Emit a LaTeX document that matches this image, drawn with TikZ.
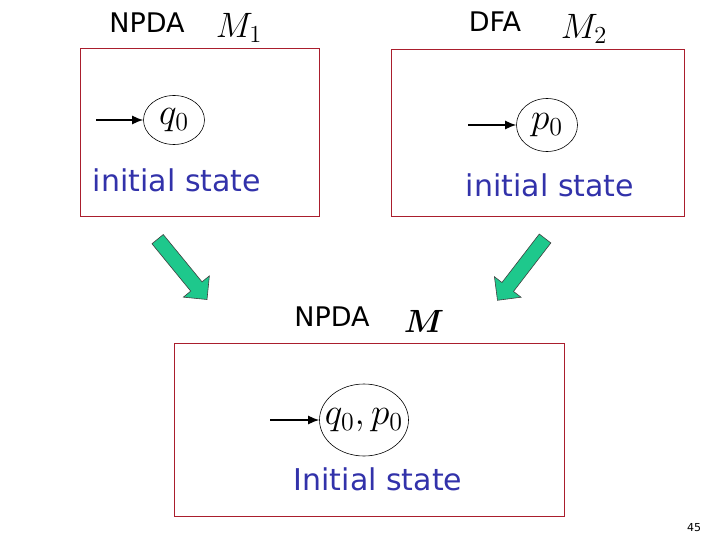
\documentclass[tikz,border=0pt]{standalone}
\usepackage{amsmath,amssymb}
\usepackage{graphicx}
\usepackage[no-math]{fontspec}
\usepackage{xcolor}
\usepackage{tikz}
\usetikzlibrary{shapes,arrows,positioning,calc,arrows.meta}
\newfontfamily\slidefont{DejaVu Sans}
% cm math stops at 24.88pt, so scale it up
\newcommand{\bigmath}[2][1.7]{\scalebox{#1}{\fontsize{20}{24}\selectfont$#2$}}

\definecolor{boxred}{RGB}{170,30,45}
\definecolor{stateblue}{RGB}{50,50,170}
\definecolor{mergegreen}{RGB}{30,200,140}

\begin{document}
\begin{tikzpicture}[x=1pt, y=-1pt,
    machine/.style={draw=boxred, line width=0.9pt},
    title/.style={font=\slidefont\fontsize{27}{30}\selectfont, inner sep=0pt},
    mname/.style={inner sep=0pt},
    state/.style={draw, ellipse, line width=0.6pt, inner sep=0pt},
    statelbl/.style={inner sep=0pt},
    initlbl/.style={font=\slidefont\fontsize{30}{34}\selectfont, text=stateblue, inner sep=0pt},
    start/.style={-{Latex[length=11pt,width=9pt]}, line width=1.4pt},
    merge/.style={single arrow, draw=black!75, fill=mergegreen, line width=0.6pt,
        minimum height=78pt, inner xsep=0pt, inner ysep=7pt, single arrow head extend=9.5pt}]
    \useasboundingbox (0,0) rectangle (720,540);

    % first machine
    \draw [machine] (80,48) rectangle (319,216);
    \node [title] (npda1) at (147,23) {NPDA};
    \node [mname] (m1) at (239,28) {\bigmath{M_1}};
    \node [state, minimum width=61pt, minimum height=49pt] (q0) at (174,120) {};
    \node [statelbl] (q0lbl) at (q0) {\bigmath[1.8]{q_0}};
    \coordinate (q0in) at (96,120);
    \draw [start] (q0in) -- (q0);
    \node [initlbl] (init1) at (177,180) {initial state};

    % second machine
    \draw [machine] (391,49) rectangle (684,216);
    \node [title] (dfa) at (495,22) {DFA};
    \node [mname] (m2) at (584,29) {\bigmath{M_2}};
    \node [state, minimum width=61pt, minimum height=53pt] (p0) at (547,125) {};
    \node [statelbl] (p0lbl) at (p0) {\bigmath[1.8]{p_0}};
    \coordinate (p0in) at (468,125);
    \draw [start] (p0in) -- (p0);
    \node [initlbl] (init2) at (550,185) {initial state};

    % merge arrows
    \node [merge, rotate=-50.7] (mergeL) at (180,266.5) {};
    \node [merge, rotate=-127.6] (mergeR) at (523.5,266.5) {};

    % product machine
    \draw [machine] (174,343) rectangle (564,516);
    \node [title] (npda) at (332,317) {NPDA};
    \node [mname] (m) at (424,321) {\bigmath[1.55]{\boldsymbol{M}}};
    \node [state, minimum width=89pt, minimum height=72pt] (qp) at (364,420) {};
    \node [statelbl] (qplbl) at (qp) {\bigmath[1.8]{q_0,p_0}};
    \coordinate (qpin) at (270,420);
    \draw [start] (qpin) -- (qp);
    \node [initlbl] (init) at (378,479) {Initial state};

    \node [font=\slidefont\fontsize{11}{13}\selectfont, inner sep=0pt] (page) at (694,528) {45};
\end{tikzpicture}
\end{document}
